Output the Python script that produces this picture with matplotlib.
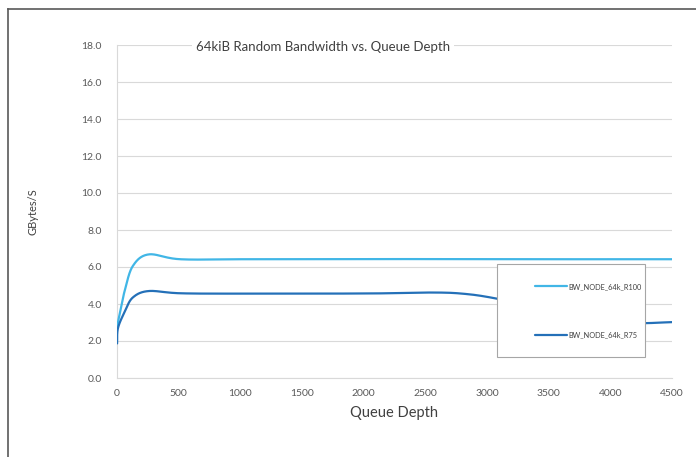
import numpy as np
import matplotlib.pyplot as plt
from matplotlib.lines import Line2D
from matplotlib.patches import Rectangle

plt.rcParams['font.family'] = ['Lato', 'DejaVu Sans']

# queue depth sweep and measured bandwidth (GBytes/S)
qd_r100 = [1, 32, 64, 128, 256, 512, 1024, 2048, 3072, 4096, 4500]
bw_r100 = [2.8, 3.8, 4.75, 6.05, 6.68, 6.42, 6.42, 6.43, 6.42, 6.42, 6.42]

qd_r75 = [1, 8, 64, 128, 256, 512, 1024, 2048, 2560, 2816, 3072, 3584, 4096, 4500]
bw_r75 = [1.87, 2.7, 3.6, 4.35, 4.70, 4.58, 4.56, 4.57, 4.62, 4.55, 4.3, 3.6, 3.0, 3.02]

series_names = ['BW_NODE_64k_R100', 'BW_NODE_64k_R75']
colors = ['#41b6e6', '#2470b8']

x_ticks = np.arange(0, 4501, 500)
y_ticks = np.arange(0, 18.1, 2.0)


def smooth(xs, ys, sx=555 / 4500, sy=18.5, n=40):
    # Excel style smoothed line: cubic bezier segments with tangents from neighbours,
    # evaluated in screen-like units so the shape doesn't depend on axis scales
    p = np.column_stack([np.asarray(xs, float) * sx, np.asarray(ys, float) * sy])
    out = [p[0]]
    for i in range(len(p) - 1):
        p0 = p[i - 1] if i > 0 else p[i]
        p3 = p[i + 2] if i + 2 < len(p) else p[i + 1]
        c1 = p[i] + (p[i + 1] - p0) / 6
        c2 = p[i + 1] - (p3 - p[i]) / 6
        t = np.linspace(0, 1, n)[1:, None]
        seg = ((1 - t) ** 3) * p[i] + 3 * ((1 - t) ** 2) * t * c1 + 3 * (1 - t) * t ** 2 * c2 + t ** 3 * p[i + 1]
        out.extend(seg)
    out = np.array(out)
    return out[:, 0] / sx, out[:, 1] / sy


fig = plt.figure(figsize=(6.96, 4.57), dpi=100)
ax = fig.add_axes([117 / 696, 79 / 457, 555 / 696, 333 / 457])

for qd, bw, name, c in zip([qd_r100, qd_r75], [bw_r100, bw_r75], series_names, colors):
    sx, sy = smooth(qd, bw)
    ax.plot(sx, sy, color=c, lw=1.6, label=name, solid_capstyle='round', zorder=3)

ax.set_xlim(0, 4500)
ax.set_ylim(0, 18)
ax.set_xticks(x_ticks)
ax.set_yticks(y_ticks)
ax.set_yticklabels([f'{v:.1f}' for v in y_ticks])
ax.tick_params(length=0, labelsize=7.5, colors='#595959')
ax.tick_params(axis='y', pad=11)
ax.tick_params(axis='x', pad=8)
ax.grid(axis='y', color='#d9d9d9', lw=0.8)
ax.set_axisbelow(True)
for s in ['top', 'right']:
    ax.spines[s].set_visible(False)
for s in ['left', 'bottom']:
    ax.spines[s].set_color('#d9d9d9')
    ax.spines[s].set_linewidth(0.8)

ax.set_xlabel('Queue Depth', fontsize=10.5, color='#404040', labelpad=6)
ax.set_ylabel('GBytes/S', fontsize=8, color='#404040', labelpad=31)

ax.text(0.142, 0.995, '64kiB Random Bandwidth vs. Queue Depth', transform=ax.transAxes,
        fontsize=9.5, color='#404040', va='center', ha='left',
        bbox=dict(facecolor='white', edgecolor='none', pad=3))

# legend box sitting over the plot
ax.add_patch(Rectangle((0.6847, 0.063), 0.2667, 0.279, transform=ax.transAxes,
                       facecolor='white', edgecolor='#a6a6a6', lw=0.8, zorder=5))
leg = ax.legend(loc='center left', bbox_to_anchor=(0.753, 0.2027), frameon=False,
                fontsize=5.3, handlelength=4.4, handletextpad=0.2, labelspacing=5.6,
                borderpad=0, borderaxespad=0)
leg.set_zorder(6)
for t in leg.get_texts():
    t.set_color('#404040')

# outer frame lines
fig.add_artist(Line2D([8 / 696, 1], [1 - 9 / 457, 1 - 9 / 457], color='#595959', lw=1.2))
fig.add_artist(Line2D([8 / 696, 8 / 696], [0, 1 - 9 / 457], color='#595959', lw=1.2))

fig.savefig('out.png', dpi=100)
